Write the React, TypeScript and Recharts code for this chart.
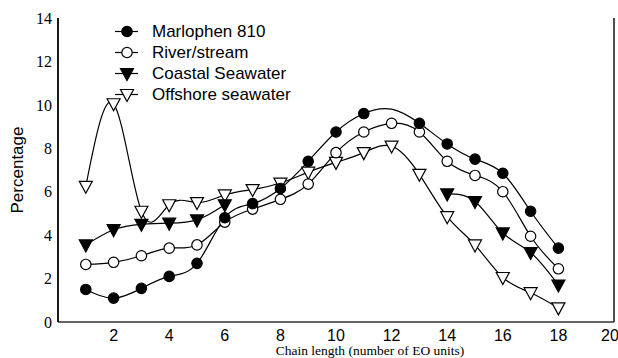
import { Line, LineChart, XAxis, YAxis } from 'recharts';

const chainLength = [1, 2, 3, 4, 5, 6, 7, 8, 9, 10, 11, 12, 13, 14, 15, 16, 17, 18];
const marlophen = [1.5, 1.1, 1.55, 2.1, 2.7, 4.8, 5.45, 6.15, 7.4, 8.75, 9.6, 9.8, 9.15, 8.2, 7.5, 6.85, 5.1, 3.4];
const riverStream = [2.65, 2.75, 3.05, 3.4, 3.55, 4.6, 5.2, 5.65, 6.35, 7.8, 8.75, 9.15, 8.75, 7.4, 6.75, 6.0, 3.95, 2.45];
const coastal = [3.55, 4.25, 4.5, 4.55, 4.7, 5.4, null, null, null, null, null, null, null, 5.9, 5.55, 4.1, 3.2, 1.7];
const offshore = [6.25, 10.05, 5.1, 5.4, 5.5, 5.85, 6.1, 6.4, 6.9, 7.35, 7.8, 8.1, 6.8, 4.85, 3.55, 2.05, 1.35, 0.65];
// chain lengths where the source figure draws no Marlophen marker
const marlophenUnmarked = [12];

const xTicks = [2, 4, 6, 8, 10, 12, 14, 16, 18, 20];
const yTicks = [0, 2, 4, 6, 8, 10, 12, 14];

const data = chainLength.map((x, i) => ({
  x,
  marlophen: marlophen[i],
  river: riverStream[i],
  coastal: coastal[i],
  offshore: offshore[i],
}));

type Shape = 'filledCircle' | 'openCircle' | 'filledTri' | 'openTri';

function marker(shape: Shape, cx: number, cy: number, key?: string) {
  if (shape === 'filledCircle' || shape === 'openCircle') {
    return (
      <circle key={key} cx={cx} cy={cy} r={5.2} fill={shape === 'filledCircle' ? '#000' : '#fff'} stroke="#000" strokeWidth={1.2} />
    );
  }
  const pts = `${cx - 6.5},${cy - 5} ${cx + 6.5},${cy - 5} ${cx},${cy + 7}`;
  return <polygon key={key} points={pts} fill={shape === 'filledTri' ? '#000' : '#fff'} stroke="#000" strokeWidth={1.2} />;
}

function makeDot(shape: Shape, skip: number[] = []) {
  return (props: any) => {
    const { cx, cy, index, value, payload } = props;
    if (cx == null || cy == null || value == null || skip.includes(payload?.x)) return <g key={`e-${index}`} />;
    return marker(shape, cx, cy, `d-${shape}-${index}`);
  };
}

const legendItems: { label: string; shape: Shape }[] = [
  { label: 'Marlophen 810', shape: 'filledCircle' },
  { label: 'River/stream', shape: 'openCircle' },
  { label: 'Coastal Seawater', shape: 'filledTri' },
  { label: 'Offshore seawater', shape: 'openTri' },
];

function LegendBox() {
  return (
    <div style={{ position: 'absolute', left: 112, top: 21 }}>
      {legendItems.map((it) => (
        <div key={it.label} style={{ display: 'flex', alignItems: 'center', height: 21 }}>
          <svg width={40} height={21}>
            <line x1={3} y1={10.5} x2={26} y2={10.5} stroke="#000" strokeWidth={1.2} />
            {marker(it.shape, 15, 10.5)}
          </svg>
          <span style={{ fontFamily: '"Liberation Sans", Arial, sans-serif', fontSize: 17, color: '#000', lineHeight: '21px' }}>
            {it.label}
          </span>
        </div>
      ))}
    </div>
  );
}

export default function App() {
  return (
    <div style={{ position: 'absolute', left: 0, top: 0, width: 618, height: 358, background: '#fff' }}>
      <LineChart width={618} height={358} data={data} margin={{ top: 18, right: 0, left: 0, bottom: 0 }}>
        <XAxis
          dataKey="x"
          type="number"
          domain={[0, 20]}
          ticks={xTicks}
          tickLine={false}
          axisLine={{ stroke: '#333', strokeWidth: 1.6 }}
          tick={{ fill: '#000', fontSize: 16, fontFamily: '"Liberation Sans", Arial, sans-serif' }}
          height={36}
          label={{
            value: 'Chain length (number of EO units)',
            position: 'insideBottom',
            offset: 3,
            dx: 34,
            style: { fill: '#000', fontSize: 13.5, fontFamily: '"Liberation Serif", "Times New Roman", serif' },
          }}
        />
        <XAxis xAxisId="top" orientation="top" type="number" domain={[0, 20]} tick={false} tickLine={false} height={0} axisLine={{ stroke: '#888', strokeWidth: 1.2 }} />
        <YAxis
          type="number"
          domain={[0, 14]}
          ticks={yTicks}
          tickLine={false}
          tickMargin={0}
          axisLine={{ stroke: '#000', strokeWidth: 1.8 }}
          tick={{ fill: '#000', fontSize: 16, fontFamily: '"Liberation Serif", "Times New Roman", serif' }}
          width={58}
          label={{
            value: 'Percentage',
            angle: -90,
            position: 'insideLeft',
            offset: 17,
            style: { textAnchor: 'middle', fill: '#000', fontSize: 17, fontFamily: '"Liberation Sans", Arial, sans-serif' },
          }}
        />
        <YAxis yAxisId="right" orientation="right" domain={[0, 14]} tick={false} tickLine={false} width={4} axisLine={{ stroke: '#222', strokeWidth: 1.6 }} />
        <Line type="natural" dataKey="offshore" stroke="#000" strokeWidth={1.2} dot={makeDot('openTri')} isAnimationActive={false} />
        <Line type="natural" dataKey="coastal" stroke="#000" strokeWidth={1.2} dot={makeDot('filledTri')} isAnimationActive={false} />
        <Line type="natural" dataKey="river" stroke="#000" strokeWidth={1.2} dot={makeDot('openCircle')} isAnimationActive={false} />
        <Line type="natural" dataKey="marlophen" stroke="#000" strokeWidth={1.2} dot={makeDot('filledCircle', marlophenUnmarked)} isAnimationActive={false} />
      </LineChart>
      <LegendBox />
    </div>
  );
}
